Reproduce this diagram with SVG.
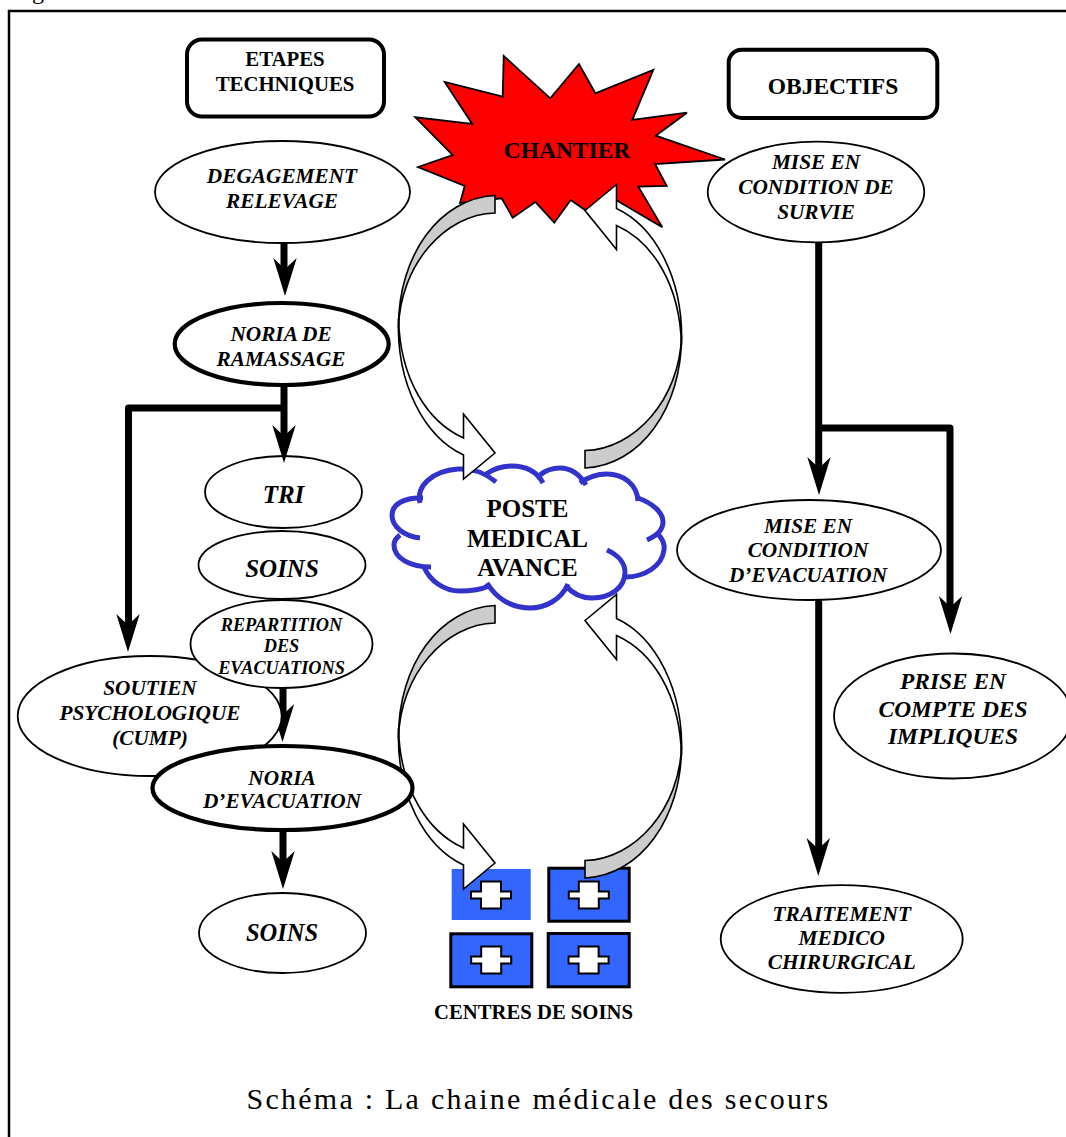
<svg xmlns="http://www.w3.org/2000/svg" xmlns:xlink="http://www.w3.org/1999/xlink" width="1066" height="1137" viewBox="0 0 1066 1137">
<style>
text{font-family:"Liberation Serif","Times New Roman",serif;text-anchor:middle;fill:#000}
.bi{font-weight:bold;font-style:italic;font-size:21.3px}
.b{font-weight:bold;font-size:20.8px}
.n{fill:#fff;stroke:#000;stroke-width:1.8}
.k{fill:#fff;stroke:#000;stroke-width:4.2}
.btn{fill:#fff;stroke:#000;stroke-width:4}
.line{fill:none;stroke:#000;stroke-width:7;stroke-linejoin:round}
.cloud{fill:none;stroke:#3333cc;stroke-width:5}
.rect{fill:#3366ff;stroke:#000;stroke-width:3}
.cross{fill:#fff;stroke:#000;stroke-width:2}
.ga{fill:#cccccc;stroke:#000;stroke-width:1.6;stroke-linejoin:miter}
.wa{fill:#fff;stroke:#000;stroke-width:1.6;stroke-linejoin:miter}
</style>
<defs>
<path id="head" d="M0,0 L-11.7,-38 L0,-27 L11.7,-38 Z" fill="#000"/>
<path id="cr" class="cross" d="M-10,-13.5 H10 V-3.5 H20 V3.5 H10 V13.5 H-10 V3.5 H-20 V-3.5 H-10 Z"/>
<g id="curved">
<path class="ga" d="M495,195.5 C440,198 398,255 398.5,328 C400,265 445,214 495,213 Z"/>
<path class="wa" d="M398.5,318 C396,385 425,437 463.5,455 L463.5,479 L495,453 L463.5,414 L463.5,438 C428,422 400,380 398.5,318 Z"/>
</g>
</defs>
<rect id="frame" x="9" y="11" width="1120" height="1200" fill="none" stroke="#000" stroke-width="2.5"/>
<text x="38" y="-1" style="font-size:24px">g</text>

<g id="chantier">
<polygon points="503.7,56 550.3,98.3 579,64 595.3,93.3 653.3,70 632.3,120 687,112.7 655.7,135.7 725,159.5 655,164 666.7,186 638.3,186.7 662.3,227.3 616,200 585,210 570.7,200 554.3,222.7 535.3,202 512.7,217.7 501.7,198.3 460,203 464.7,186 418,167 452.7,155 415.3,117.3 472.3,124 444.7,82 502.7,96.7" fill="#ff0000" stroke="#000" stroke-width="1.8" stroke-linejoin="miter"/>
<text class="b" x="567" y="158" style="font-size:23.5px">CHANTIER</text>
</g>

<g id="poste">
<path class="cloud" d="M420,503 C416,486 432,471 458,469 C474,468 485,473 496,482"/>
<path class="cloud" d="M486,474 C495,468 503,466 512,466 C526,466 537,472 543,483"/>
<path class="cloud" d="M540,475 C546,470 553,468 560,468 C571,468 580,475 586,485"/>
<path class="cloud" d="M580,483 C588,477 597,474 607,474 C623,474 637,484 638,501"/>
<path class="cloud" d="M638,498 C652,503 663,512 663,522 C663,530 656,536 647,540"/>
<path class="cloud" d="M657,533 C662,538 665,544 664,550 C662,566 645,577 625,577"/>
<path class="cloud" d="M607,550 C618,555 625,563 625,572 C625,588 610,598 592,598 C582,598 573,594 566,586"/>
<path class="cloud" d="M568,584 C561,600 545,608 530,608 C511,608 496,598 487,583"/>
<path class="cloud" d="M489,586 C480,590 470,591 460,591 C444,591 430,581 424,567"/>
<path class="cloud" d="M431,567 C410,567 394,558 394,545 C394,541 396,538 400,535"/>
<path class="cloud" d="M420,538 C404,536 392,527 392,515 C392,504 405,497 423,498"/>
<text class="b" x="527.5" y="517" style="font-size:25px">POSTE</text>
<text class="b" x="527.5" y="546.5" style="font-size:25px">MEDICAL</text>
<text class="b" x="527.5" y="576" style="font-size:25px">AVANCE</text>
</g>

<g id="centres">
<rect x="451.7" y="869" width="79" height="51" fill="#3366ff"/>
<rect class="rect" x="548.8" y="868.2" width="80.4" height="53"/>
<rect class="rect" x="450.8" y="933.8" width="81" height="53"/>
<rect class="rect" x="548.2" y="933.5" width="81" height="53.3"/>
<use xlink:href="#cr" href="#cr" x="491" y="895"/>
<use xlink:href="#cr" href="#cr" x="588.8" y="895"/>
<use xlink:href="#cr" href="#cr" x="491.2" y="960"/>
<use xlink:href="#cr" href="#cr" x="588.6" y="960"/>
<text class="b" x="533.5" y="1019" style="font-size:20.7px">CENTRES DE SOINS</text>
</g>

<g id="tri">
<ellipse class="n" cx="283.5" cy="492" rx="78.5" ry="36"/>
<text class="bi" x="283.5" y="503" style="font-size:25px">TRI</text>
</g>

<g id="connectors">
<path class="line" d="M284,243 V270"/>
<use xlink:href="#head" href="#head" x="285" y="296"/>
<path class="line" d="M284,386 V440"/>
<use xlink:href="#head" href="#head" x="284" y="463"/>
<path class="line" d="M284,408 H128.5 V630"/>
<use xlink:href="#head" href="#head" x="128" y="652"/>
<path class="line" d="M283,688 V720"/>
<use xlink:href="#head" href="#head" x="282.5" y="742"/>
<path class="line" d="M283,830 V870"/>
<use xlink:href="#head" href="#head" x="283" y="889"/>
<path class="line" d="M818.7,242 V470"/>
<use xlink:href="#head" href="#head" x="819" y="495"/>
<path class="line" d="M819,428 H950 V610"/>
<use xlink:href="#head" href="#head" x="950.5" y="634"/>
<path class="line" d="M818.7,600 V850"/>
<use xlink:href="#head" href="#head" x="818.3" y="876"/>
<use xlink:href="#curved" href="#curved"/>
<use xlink:href="#curved" href="#curved" transform="rotate(180 540 331.75)"/>
<use xlink:href="#curved" href="#curved" transform="translate(0 410)"/>
<use xlink:href="#curved" href="#curved" transform="translate(0 410) rotate(180 540 331.75)"/>
</g>

<g id="etapes">
<rect class="btn" x="187" y="39.5" width="197" height="77" rx="15"/>
<text class="b" x="285" y="66">ETAPES</text>
<text class="b" x="285" y="91">TECHNIQUES</text>
</g>
<g id="objectifs">
<rect class="btn" x="728.7" y="49.7" width="208.6" height="68.3" rx="13"/>
<text class="b" x="833" y="93.5" style="font-size:23.5px">OBJECTIFS</text>
</g>
<g id="degagement">
<ellipse class="n" cx="282.5" cy="192" rx="127.5" ry="51"/>
<text class="bi" x="282" y="183.3">DEGAGEMENT</text>
<text class="bi" x="282" y="208.3">RELEVAGE</text>
</g>
<g id="noria-ramassage">
<ellipse class="k" cx="281.7" cy="344" rx="107" ry="41"/>
<text class="bi" x="281" y="341">NORIA DE</text>
<text class="bi" x="281" y="366">RAMASSAGE</text>
</g>
<g id="soins1">
<ellipse class="n" cx="282" cy="565" rx="83.5" ry="34"/>
<text class="bi" x="282" y="577" style="font-size:25px">SOINS</text>
</g>
<g id="soutien">
<ellipse class="n" cx="149.7" cy="716" rx="132" ry="60"/>
<text class="bi" x="150" y="695">SOUTIEN</text>
<text class="bi" x="150" y="720">PSYCHOLOGIQUE</text>
<text class="bi" x="150" y="745">(CUMP)</text>
</g>
<g id="repartition">
<ellipse class="n" cx="281.5" cy="644" rx="91" ry="44"/>
<text class="bi" x="281.5" y="631" style="font-size:18.3px">REPARTITION</text>
<text class="bi" x="281.5" y="652" style="font-size:18.3px">DES</text>
<text class="bi" x="281.5" y="674" style="font-size:18.3px">EVACUATIONS</text>
</g>
<g id="noria-evacuation">
<ellipse class="k" cx="282.5" cy="788" rx="130" ry="42"/>
<text class="bi" x="282" y="785">NORIA</text>
<text class="bi" x="282" y="808">D’EVACUATION</text>
</g>
<g id="soins2">
<ellipse class="n" cx="282.5" cy="933" rx="83.5" ry="40"/>
<text class="bi" x="282" y="941" style="font-size:24.5px">SOINS</text>
</g>
<g id="mise-survie">
<ellipse class="n" cx="816" cy="192" rx="108.3" ry="50.3"/>
<text class="bi" x="816" y="169.3">MISE EN</text>
<text class="bi" x="816" y="194">CONDITION DE</text>
<text class="bi" x="816" y="219">SURVIE</text>
</g>
<g id="mise-evacuation">
<ellipse class="n" cx="809" cy="550" rx="132" ry="50"/>
<text class="bi" x="808" y="533">MISE EN</text>
<text class="bi" x="808" y="557">CONDITION</text>
<text class="bi" x="808" y="582">D’EVACUATION</text>
</g>
<g id="prise">
<ellipse class="n" cx="953" cy="716" rx="119" ry="62.5"/>
<text class="bi" x="953" y="689" style="font-size:23.4px">PRISE EN</text>
<text class="bi" x="953" y="717" style="font-size:23.4px">COMPTE DES</text>
<text class="bi" x="953" y="744" style="font-size:23.4px">IMPLIQUES</text>
</g>
<g id="traitement">
<ellipse class="n" cx="841.7" cy="939" rx="121" ry="53.8"/>
<text class="bi" x="841.7" y="920.7">TRAITEMENT</text>
<text class="bi" x="841.7" y="945">MEDICO</text>
<text class="bi" x="841.7" y="969.3">CHIRURGICAL</text>
</g>
<text x="538.5" y="1109" style="font-size:30px;letter-spacing:2.24px">Schéma : La chaine médicale des secours</text>
</svg>
